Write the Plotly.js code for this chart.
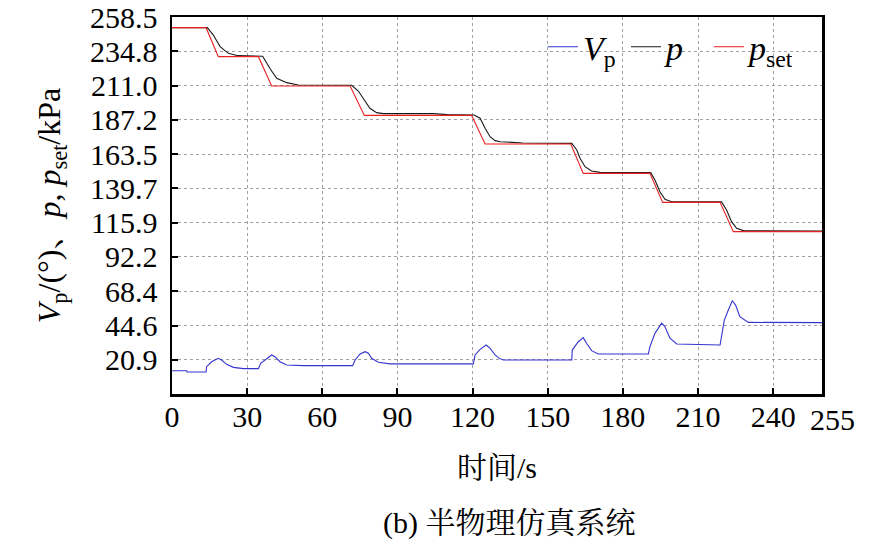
<!DOCTYPE html>
<html>
<head>
<meta charset="utf-8">
<script src="https://cdn.plot.ly/plotly-3.0.1.min.js"></script>
<style>
  html, body { margin: 0; padding: 0; background: #fff; }
  #chart { width: 886px; height: 545px; }
</style>
</head>
<body>
<div id="chart"></div>
<script>
const SERIF = "Times New Roman, Liberation Serif, Noto Serif CJK SC, Noto Sans CJK SC, serif";

// time axis ticks (s); the "255" label at the axis end is added as an annotation
const X_TICKS = [0, 30, 60, 90, 120, 150, 180, 210, 240];
const X_END_LABEL = "255";
const X_RANGE = [0, 259.5];
const Y_TICKS = [20.9, 44.6, 68.4, 92.2, 115.9, 139.7, 163.5, 187.2, 211.0, 234.8, 258.5];

// setpoint pressure p_set (kPa)
const psetTime = [0, 13.6, 18.5, 34.5, 39.8, 71.1, 76.8, 119.6, 125.0, 159.2, 164.2, 190.8, 195.9, 218.8, 224.1, 259.5];
const psetValue = [251.1, 251.1, 231.0, 231.0, 210.7, 210.7, 190.3, 190.3, 170.5, 170.5, 150.1, 150.1, 130.0, 130.0, 109.7, 109.7];

// measured pressure p (kPa)
const pTime = [
  0, 14.1, 16.5, 19.2, 22.5, 26.3, 36.2, 39.1, 41.8, 45.8, 50.4,
  71.7, 74.4, 77.0, 79.0, 81.7, 84.4, 104.3, 110.0,
  120.6, 123.0, 125.0, 127.0, 129.0, 131.0, 140.0,
  159.6, 161.6, 162.9, 164.9, 167.5, 170.9,
  191.1, 192.8, 194.8, 196.8, 199.5,
  219.4, 221.4, 223.4, 225.4, 228.1, 259.5,
];
const pValue = [
  251.1, 251.1, 246.0, 238.0, 233.3, 231.7, 231.3, 222.8, 216.0, 213.0, 211.4,
  211.2, 207.2, 200.9, 195.2, 192.2, 191.5, 191.5, 190.8,
  190.6, 188.3, 181.3, 175.5, 172.8, 172.0, 171.2,
  170.9, 166.3, 160.6, 154.7, 151.7, 150.8,
  150.6, 145.5, 137.4, 132.1, 130.4,
  130.3, 124.7, 116.6, 112.0, 110.4, 110.1,
];

// valve opening V_p (deg)
const vpTime = [
  0, 5.9, 6.0, 13.6, 13.8, 15.8, 18.5, 19.8, 21.8, 24.5, 28.5,
  34.5, 35.4, 37.8, 39.8, 41.1, 43.1, 45.8, 52.4,
  72.1, 73.1, 75.1, 77.1, 78.4, 79.7, 82.4, 87.0,
  120.3, 121.0, 123.0, 125.4, 127.0, 129.0, 130.5, 132.3,
  159.6, 159.8, 162.2, 164.2, 165.5, 167.5, 170.2,
  190.2, 190.8, 192.8, 195.5, 196.8, 198.8, 201.5,
  218.8, 219.2, 220.5, 222.1, 223.7, 225.0, 226.7, 230.1, 259.5,
];
const vpValue = [
  13.3, 13.3, 12.4, 12.4, 16.1, 19.5, 21.9, 20.7, 17.7, 15.6, 14.7,
  14.7, 18.4, 21.9, 24.2, 23.0, 19.5, 17.2, 16.8,
  16.8, 20.7, 24.9, 26.5, 25.4, 21.9, 19.1, 18.0,
  18.0, 24.2, 28.1, 31.1, 28.8, 24.2, 22.0, 20.7,
  20.7, 27.6, 33.4, 36.2, 32.3, 27.2, 24.9,
  24.9, 29.9, 39.2, 46.2, 43.8, 35.8, 31.8,
  31.1, 35.8, 48.4, 55.4, 61.8, 58.8, 50.7, 46.8, 46.6,
];

function lineTrace(name, x, y, color) {
  return {
    type: "scatter",
    mode: "lines",
    name,
    x,
    y,
    line: { color, width: 1.1 },
    hoverinfo: "skip",
  };
}

function axisBase() {
  return {
    showline: true,
    mirror: true,
    linecolor: "#000",
    linewidth: 2.5,
    ticks: "inside",
    ticklen: 6,
    tickwidth: 2,
    tickcolor: "#000",
    showgrid: true,
    gridcolor: "#a0a0a0",
    gridwidth: 1,
    griddash: "dot",
    zeroline: false,
    tickfont: { family: SERIF, size: 30, color: "#000" },
  };
}

const traces = [
  lineTrace("<i>V</i><sub>p</sub>", vpTime, vpValue, "#3434d0"),
  lineTrace("<i>p</i>", pTime, pValue, "#1a1a1a"),
  lineTrace("<i>p</i><sub>set</sub>", psetTime, psetValue, "#e82020"),
];

const layout = {
  width: 886,
  height: 545,
  paper_bgcolor: "#fff",
  plot_bgcolor: "#fff",
  margin: { t: 17, r: 64, b: 151, l: 172 },
  showlegend: true,
  legend: {
    orientation: "h",
    x: (543 - 172) / 650,
    xanchor: "left",
    y: 0.92,
    yanchor: "middle",
    bgcolor: "rgba(0,0,0,0)",
    font: { family: SERIF, size: 34, color: "#000" },
    itemwidth: 30,
    entrywidth: 38,
    entrywidthmode: "pixels",
  },
  xaxis: {
    ...axisBase(),
    range: X_RANGE,
    tickmode: "array",
    tickvals: X_TICKS,
    ticktext: X_TICKS.map(String),
    ticklabelstandoff: -6,
    title: {
      text: "时间/s",
      font: { family: SERIF, size: 30, color: "#000" },
      standoff: 26,
    },
  },
  yaxis: {
    ...axisBase(),
    range: [-2.86, 258.5],
    tickmode: "array",
    tickvals: Y_TICKS,
    ticktext: Y_TICKS.map((v) => v.toFixed(1)),
    ticklabelstandoff: 6,
    title: {
      text: "<i>V</i><sub>p</sub>/(°)、<i>p</i>, <i>p</i><sub>set</sub>/kPa",
      font: { family: SERIF, size: 32, color: "#000" },
      standoff: 20,
    },
  },
  annotations: [
    {
      text: X_END_LABEL,
      xref: "paper",
      yref: "paper",
      x: 1,
      xshift: 10,
      y: (394 - 420) / 377,
      xanchor: "center",
      yanchor: "middle",
      showarrow: false,
      font: { family: SERIF, size: 30, color: "#000" },
    },
    {
      text: "(b) 半物理仿真系统",
      xref: "paper",
      yref: "paper",
      x: (509 - 172) / 650,
      y: (394 - 523) / 377,
      xanchor: "center",
      yanchor: "middle",
      showarrow: false,
      font: { family: SERIF, size: 30, color: "#000" },
    },
  ],
};

Plotly.newPlot("chart", traces, layout, { displayModeBar: false, staticPlot: true });
</script>
</body>
</html>
